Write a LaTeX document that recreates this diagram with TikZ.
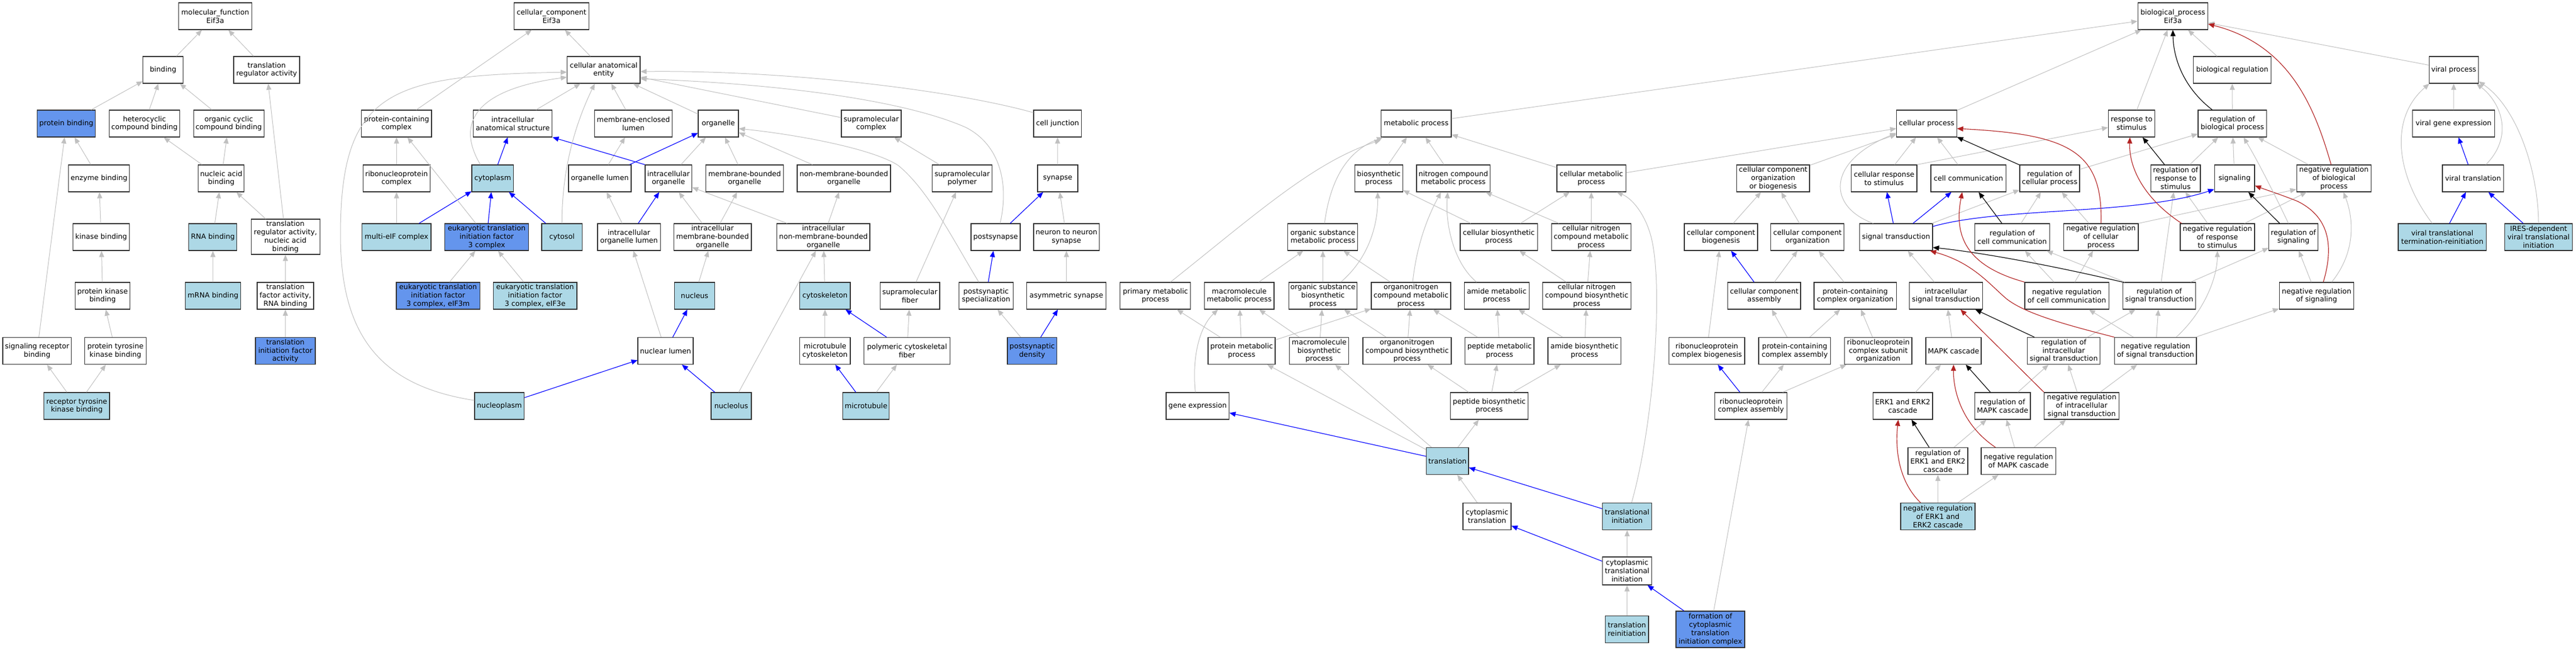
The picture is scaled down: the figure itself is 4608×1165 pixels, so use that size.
\documentclass[tikz,border=0pt]{standalone}
\usepackage{fontspec}
\setmainfont{DejaVu Sans}
\usetikzlibrary{arrows.meta}
\definecolor{cLight}{HTML}{ADD8E6}
\definecolor{cDark}{HTML}{6495ED}
\definecolor{cEdge}{HTML}{C0C0C0}
\definecolor{cRed}{HTML}{B22222}
\definecolor{cBorder}{HTML}{303030}
\tikzset{
  gbox/.style={draw=cBorder, line width=1.2pt, inner sep=1pt, align=center, anchor=center,
    font=\fontsize{12.7}{14.8}\selectfont},
  wb/.style={fill=white}, lb/.style={fill=cLight}, db/.style={fill=cDark},
  ge/.style={draw=cEdge, line width=1pt, -{Triangle[length=11pt,width=9pt]}},
  be/.style={draw=blue, line width=1.15pt, -{Triangle[length=11pt,width=9pt]}},
  ke/.style={draw=black, line width=1.15pt, -{Triangle[length=11pt,width=9pt]}},
  re/.style={draw=cRed, line width=1.15pt, -{Triangle[length=11pt,width=9pt]}}
}
\newcommand{\gonode}[7]{\node[gbox,#7,minimum width=#4pt,minimum height=#5pt] (#1) at (#2,#3) {#6};}
\newcommand{\edgG}[2]{\draw[ge] (#1) -- (#2);}
\newcommand{\edgB}[2]{\draw[be] (#1) -- (#2);}
\newcommand{\edgK}[2]{\draw[ke] (#1) -- (#2);}
\begin{document}
\begin{tikzpicture}[x=1pt,y=-1pt]
\useasboundingbox (0,0) rectangle (4608,1165);
% ---------------- molecular function
\gonode{mf}{385}{29}{131}{48}{molecular\_function\\Eif3a}{wb}
\gonode{bind}{291.75}{125}{72}{48}{binding}{wb}
\gonode{tra}{477}{125}{118}{48}{translation\\regulator activity}{wb}
\gonode{pbind}{118.65}{221}{104}{48}{protein binding}{db}
\gonode{hcb}{258.45}{221}{126}{48}{heterocyclic\\compound binding}{wb}
\gonode{occb}{409.15}{221}{126}{48}{organic cyclic\\compound binding}{wb}
\gonode{enzb}{177.1}{319}{109.4}{48}{enzyme binding}{wb}
\gonode{nab}{395.75}{319}{82}{48}{nucleic acid\\binding}{wb}
\gonode{kinb}{181}{424}{101.5}{48}{kinase binding}{wb}
\gonode{rnab}{380.8}{424}{86}{48}{RNA binding}{lb}
\gonode{tranab}{510.6}{423.5}{123}{63}{translation\\regulator activity,\\nucleic acid\\binding}{wb}
\gonode{pkb}{183.5}{529}{98.5}{48}{protein kinase\\binding}{wb}
\gonode{mrnab}{381}{529}{98.5}{48}{mRNA binding}{lb}
\gonode{tfrna}{510.5}{529}{101}{48}{translation\\factor activity,\\RNA binding}{wb}
\gonode{srb}{66.4}{627.5}{122.8}{48}{signaling receptor\\binding}{wb}
\gonode{ptkb}{206.45}{627.5}{109.5}{48}{protein tyrosine\\kinase binding}{wb}
\gonode{tifa}{510.5}{627.5}{107}{48}{translation\\initiation factor\\activity}{db}
\gonode{rtkb}{137.3}{726}{117.4}{48}{receptor tyrosine\\kinase binding}{lb}
% ---------------- cellular component
\gonode{cc}{986.6}{29}{133.8}{48}{cellular\_component\\Eif3a}{wb}
\gonode{cae}{1079.85}{125}{130.3}{48}{cellular anatomical\\entity}{wb}
\gonode{pcc}{709.35}{221}{125.3}{48}{protein-containing\\complex}{wb}
\gonode{ias}{917.2}{221}{141.2}{48}{intracellular\\anatomical structure}{wb}
\gonode{mel}{1133.05}{221}{139.3}{48}{membrane-enclosed\\lumen}{wb}
\gonode{org}{1285}{221}{72}{48}{organelle}{wb}
\gonode{smc}{1558.5}{221}{107}{48}{supramolecular\\complex}{wb}
\gonode{cj}{1891.7}{221}{85.4}{48}{cell junction}{wb}
\gonode{rnpc}{709.35}{319}{120.3}{48}{ribonucleoprotein\\complex}{wb}
\gonode{cyto}{881.35}{319}{74.7}{48}{cytoplasm}{lb}
\gonode{orgl}{1073}{319}{112}{48}{organelle lumen}{wb}
\gonode{io}{1195.75}{319}{83.5}{48}{intracellular\\organelle}{wb}
\gonode{mbo}{1332}{319}{139.3}{48}{membrane-bounded\\organelle}{wb}
\gonode{nmbo}{1509.5}{319}{167}{48}{non-membrane-bounded\\organelle}{wb}
\gonode{smp}{1721.15}{319}{106.7}{48}{supramolecular\\polymer}{wb}
\gonode{syn}{1892}{319}{72}{48}{synapse}{wb}
\gonode{meif}{709.35}{424}{123.3}{48}{multi-eIF complex}{lb}
\gonode{eif3}{870.65}{424}{149.7}{48}{eukaryotic translation\\initiation factor\\3 complex}{db}
\gonode{cytosol}{1005.3}{424}{72.6}{48}{cytosol}{lb}
\gonode{iol}{1125.15}{424}{112.3}{48}{intracellular\\organelle lumen}{wb}
\gonode{imbo}{1274.6}{424}{138.8}{48}{intracellular\\membrane-bounded\\organelle}{wb}
\gonode{inmbo}{1472.9}{424}{166.2}{48}{intracellular\\non-membrane-bounded\\organelle}{wb}
\gonode{psyn}{1781}{424}{88}{48}{postsynapse}{wb}
\gonode{n2n}{1907.7}{424}{117.4}{48}{neuron to neuron\\synapse}{wb}
\gonode{eif3m}{783.7}{529}{149.6}{48}{eukaryotic translation\\initiation factor\\3 complex, eIF3m}{db}
\gonode{eif3e}{957.2}{529}{149.6}{48}{eukaryotic translation\\initiation factor\\3 complex, eIF3e}{lb}
\gonode{nucleus}{1242.5}{529}{71.6}{48}{nucleus}{lb}
\gonode{cytosk}{1475.8}{529}{90.4}{48}{cytoskeleton}{lb}
\gonode{smf}{1627.65}{529}{106.7}{48}{supramolecular\\fiber}{wb}
\gonode{pss}{1763.8}{529}{97}{48}{postsynaptic\\specialization}{wb}
\gonode{asyn}{1907.55}{529}{142.1}{48}{asymmetric synapse}{wb}
\gonode{nucl}{1190.5}{627.5}{99}{48}{nuclear lumen}{wb}
\gonode{mtc}{1475.8}{627.5}{90.4}{48}{microtubule\\cytoskeleton}{wb}
\gonode{pcf}{1622.5}{627.5}{154.6}{48}{polymeric cytoskeletal\\fiber}{wb}
\gonode{psd}{1846.4}{627.5}{88.8}{48}{postsynaptic\\density}{db}
\gonode{nplasm}{893.3}{726}{88.6}{48}{nucleoplasm}{lb}
\gonode{nucleolus}{1307.95}{726}{72.1}{48}{nucleolus}{lb}
\gonode{mt}{1549.25}{726}{83.1}{48}{microtubule}{lb}
% ---------------- biological process
\gonode{bp}{3886.8}{29}{125.2}{48}{biological\_process\\Eif3a}{wb}
\gonode{breg}{3993}{125}{138.6}{48}{biological regulation}{wb}
\gonode{vp}{4389.25}{125}{88.1}{48}{viral process}{wb}
\gonode{mp}{2533.25}{221}{125.5}{48}{metabolic process}{wb}
\gonode{cp}{3446.4}{221}{107.4}{48}{cellular process}{wb}
\gonode{rts}{3813}{221}{83}{48}{response to\\stimulus}{wb}
\gonode{rbp}{3993.3}{221}{122.6}{48}{regulation of\\biological process}{wb}
\gonode{vge}{4389}{221}{147.4}{48}{viral gene expression}{wb}
\gonode{bsp}{2466.4}{319}{85.8}{48}{biosynthetic\\process}{wb}
\gonode{ncmp}{2599.7}{319}{131.4}{48}{nitrogen compound\\metabolic process}{wb}
\gonode{cmp}{2846.6}{319}{123.2}{48}{cellular metabolic\\process}{wb}
\gonode{ccoob}{3171.85}{319}{130.3}{48}{cellular component\\organization\\or biogenesis}{wb}
\gonode{crts}{3370.3}{319}{117.4}{48}{cellular response\\to stimulus}{wb}
\gonode{ccom}{3521.05}{319}{134.3}{48}{cell communication}{wb}
\gonode{rcp}{3666.5}{319}{107}{48}{regulation of\\cellular process}{wb}
\gonode{rrts}{3891.7}{319}{88.6}{48}{regulation of\\response to\\stimulus}{wb}
\gonode{sig}{3997.15}{319}{71.7}{48}{signaling}{wb}
\gonode{nrbp}{4174.9}{319}{133.4}{48}{negative regulation\\of biological\\process}{wb}
\gonode{vt}{4423.8}{319}{109.6}{48}{viral translation}{wb}
\gonode{osmp}{2366.3}{424}{125}{48}{organic substance\\metabolic process}{wb}
\gonode{cbsp}{2681.1}{424}{138.2}{48}{cellular biosynthetic\\process}{wb}
\gonode{cncmp}{2846.4}{424}{142}{48}{cellular nitrogen\\compound metabolic\\process}{wb}
\gonode{ccb}{3078.5}{424}{131}{48}{cellular component\\biogenesis}{wb}
\gonode{cco}{3233.25}{424}{130.9}{48}{cellular component\\organization}{wb}
\gonode{st}{3391.7}{424}{130.4}{48}{signal transduction}{wb}
\gonode{rcc}{3599.4}{424}{133.8}{48}{regulation of\\cell communication}{wb}
\gonode{nrcp}{3758.25}{424}{133.5}{48}{negative regulation\\of cellular\\process}{wb}
\gonode{nrrts}{3966.5}{424}{133}{48}{negative regulation\\of response\\to stimulus}{wb}
\gonode{rsig}{4102.5}{424}{87.6}{48}{regulation of\\signaling}{wb}
\gonode{vttr}{4368.85}{424}{157.7}{48}{viral translational\\termination-reinitiation}{lb}
\gonode{ires}{4541}{424}{120.6}{48}{IRES-dependent\\viral translational\\initiation}{lb}
\gonode{pmp}{2066.8}{529}{126}{48}{primary metabolic\\process}{wb}
\gonode{mmp}{2216.75}{529}{124.5}{48}{macromolecule\\metabolic process}{wb}
\gonode{osbp}{2366.5}{529}{122.6}{48}{organic substance\\biosynthetic\\process}{wb}
\gonode{oncmp}{2524}{529}{142}{48}{organonitrogen\\compound metabolic\\process}{wb}
\gonode{amp}{2677.25}{529}{115.9}{48}{amide metabolic\\process}{wb}
\gonode{cncbp}{2838.4}{529}{158}{48}{cellular nitrogen\\compound biosynthetic\\process}{wb}
\gonode{cca}{3155.85}{529}{130.3}{48}{cellular component\\assembly}{wb}
\gonode{pcco}{3318.6}{529}{147.2}{48}{protein-containing\\complex organization}{wb}
\gonode{ist}{3481}{529}{130.8}{48}{intracellular\\signal transduction}{wb}
\gonode{nrcc}{3697.1}{529}{150.2}{48}{negative regulation\\of cell communication}{wb}
\gonode{rst}{3862.5}{529}{130.4}{48}{regulation of\\signal transduction}{wb}
\gonode{nrsig}{4143.95}{529}{133.5}{48}{negative regulation\\of signaling}{wb}
\gonode{prmp}{2221}{627.5}{120}{48}{protein metabolic\\process}{wb}
\gonode{mbp}{2359.75}{627.5}{106.1}{48}{macromolecule\\biosynthetic\\process}{wb}
\gonode{oncbp}{2517}{627.5}{158}{48}{organonitrogen\\compound biosynthetic\\process}{wb}
\gonode{pepmp}{2682.4}{627.5}{123.2}{48}{peptide metabolic\\process}{wb}
\gonode{abp}{2834.25}{627.5}{130.5}{48}{amide biosynthetic\\process}{wb}
\gonode{rnpcb}{3053.15}{627.5}{135.7}{48}{ribonucleoprotein\\complex biogenesis}{wb}
\gonode{pcca}{3210.4}{627.5}{128.8}{48}{protein-containing\\complex assembly}{wb}
\gonode{rnpso}{3359.85}{627.5}{120.3}{48}{ribonucleoprotein\\complex subunit\\organization}{wb}
\gonode{mapk}{3494.5}{627.5}{99}{48}{MAPK cascade}{wb}
\gonode{rist}{3691.65}{627.5}{130.3}{48}{regulation of\\intracellular\\signal transduction}{wb}
\gonode{nrst}{3855.8}{627.5}{146.4}{48}{negative regulation\\of signal transduction}{wb}
\gonode{gexp}{2142.3}{726}{112.6}{48}{gene expression}{wb}
\gonode{pbp}{2663.9}{726}{138.6}{48}{peptide biosynthetic\\process}{wb}
\gonode{rnpca}{3132.05}{726}{129.3}{48}{ribonucleoprotein\\complex assembly}{wb}
\gonode{erk}{3403.65}{726}{106.5}{48}{ERK1 and ERK2\\cascade}{wb}
\gonode{rmapk}{3582.25}{726}{99.5}{48}{regulation of\\MAPK cascade}{wb}
\gonode{nrist}{3723.7}{726}{133.8}{48}{negative regulation\\of intracellular\\signal transduction}{wb}
\gonode{trl}{2589.25}{824.5}{75.5}{48}{translation}{lb}
\gonode{rerk}{3466.5}{824.5}{107}{48}{regulation of\\ERK1 and ERK2\\cascade}{wb}
\gonode{nrmapk}{3610.6}{824.5}{133.2}{48}{negative regulation\\of MAPK cascade}{wb}
\gonode{ctrl}{2660}{923.5}{86}{48}{cytoplasmic\\translation}{wb}
\gonode{tinit}{2910.6}{923.5}{88.2}{48}{translational\\initiation}{lb}
\gonode{nrerk}{3466.5}{923.5}{133}{48}{negative regulation\\of ERK1 and\\ERK2 cascade}{lb}
\gonode{ctinit}{2910.6}{1021}{88.2}{50}{cytoplasmic\\translational\\initiation}{wb}
\gonode{treinit}{2910.2}{1125.5}{77.6}{48}{translation\\reinitiation}{lb}
\gonode{fcti}{3059.5}{1125.5}{123}{65}{formation of\\cytoplasmic\\translation\\initiation complex}{db}
% ================= edges: molecular function
\edgG{bind}{mf}
\edgG{tra}{mf}
\edgG{pbind}{bind}
\edgG{hcb}{bind}
\edgG{occb}{bind}
\edgG{enzb}{pbind}
\edgG{srb}{pbind}
\edgG{nab}{hcb}
\edgG{nab}{occb}
\edgG{kinb}{enzb}
\edgG{rnab}{nab}
\edgG{tranab}{nab}
\edgG{tranab}{tra}
\edgG{pkb}{kinb}
\edgG{mrnab}{rnab}
\edgG{tfrna}{tranab}
\edgG{ptkb}{pkb}
\edgG{tifa}{tfrna}
\edgG{rtkb}{srb}
\edgG{rtkb}{ptkb}
% ================= edges: cellular component
\edgG{cae}{cc}
\edgG{pcc}{cc}
\edgG{ias}{cae}
\edgG{mel}{cae}
\edgG{org}{cae}
\edgG{smc}{cae}
\edgG{rnpc}{pcc}
\edgG{meif}{rnpc}
\edgB{meif}{cyto}
\edgB{eif3}{cyto}
\edgG{eif3}{pcc}
\edgB{cytosol}{cyto}
\edgB{cyto}{ias}
\edgG{eif3m}{eif3}
\edgG{eif3e}{eif3}
\edgG{orgl}{mel}
\edgB{orgl}{org}
\draw[be] (io.north west) -- (ias.south east);
\edgG{io}{org}
\edgG{mbo}{org}
\edgG{nmbo}{org}
\edgG{iol}{orgl}
\edgB{iol}{io}
\edgG{imbo}{io}
\edgG{imbo}{mbo}
\edgG{inmbo}{io}
\edgG{inmbo}{nmbo}
\edgG{nucleus}{imbo}
\edgG{cytosk}{inmbo}
\edgG{nucl}{iol}
\edgB{nucl}{nucleus}
\edgG{nucleolus}{inmbo}
\edgB{nucleolus}{nucl}
\edgB{nplasm}{nucl}
\edgG{mtc}{cytosk}
\edgB{pcf}{cytosk}
\edgG{pcf}{smf}
\edgB{mt}{mtc}
\edgG{mt}{pcf}
\edgG{smf}{smp}
\edgG{smp}{smc}
\edgG{syn}{cj}
\edgB{psyn}{syn}
\edgG{n2n}{syn}
\edgB{pss}{psyn}
\edgG{asyn}{n2n}
\edgG{psd}{pss}
\edgB{psd}{asyn}
\draw[ge] ([yshift=10pt]nplasm.west) .. controls (680,690) and (609,600) .. (609,420) .. controls (609,160) and (700,135) .. ([yshift=-4pt]cae.west);
\draw[ge] ([xshift=-22pt]cyto.north) .. controls (815,220) and (850,160) .. ([yshift=-13pt]cae.west);
\draw[ge] (cytosol.north) .. controls (1005,300) and (1030,220) .. ([xshift=-16pt]cae.south);
\draw[ge] ([yshift=-5pt]cj.north west) .. controls (1700,160) and (1400,125) .. ([yshift=-3pt]cae.east);
\draw[ge] ([xshift=8pt]psyn.north) .. controls (1805,330) and (1790,260) .. (1728,228) .. controls (1620,180) and (1400,150) .. ([yshift=-16pt]cae.east);
\draw[ge] ([xshift=-13pt]pss.north) .. controls (1700,420) and (1660,340) .. (1607,296) .. controls (1560,265) and (1420,240) .. ([yshift=-9pt]org.east);
% ================= edges: biological process
\edgG{mp}{bp}
\edgG{cp}{bp}
\edgG{rts}{bp}
\edgG{breg}{bp}
\edgG{vp}{bp}
\edgG{rbp}{breg}
\edgG{vge}{vp}
\edgB{vt}{vge}
\edgB{vttr}{vt}
\edgB{ires}{vt}
\edgG{bsp}{mp}
\edgG{ncmp}{mp}
\edgG{cmp}{mp}
\edgG{cmp}{cp}
\edgG{cbsp}{bsp}
\edgG{cbsp}{cmp}
\edgG{cncmp}{ncmp}
\edgG{cncmp}{cmp}
\edgG{osbp}{osmp}
\edgG{oncmp}{osmp}
\edgG{mmp}{osmp}
\edgG{cncbp}{cbsp}
\edgG{cncbp}{cncmp}
\edgG{prmp}{pmp}
\edgG{prmp}{mmp}
\edgG{prmp}{oncmp}
\edgG{mbp}{mmp}
\edgG{mbp}{osbp}
\edgG{oncbp}{osbp}
\edgG{oncbp}{oncmp}
\edgG{pepmp}{oncmp}
\edgG{pepmp}{amp}
\edgG{abp}{amp}
\edgG{abp}{cncbp}
\edgG{pbp}{oncbp}
\edgG{pbp}{pepmp}
\edgG{pbp}{abp}
\edgG{trl}{pbp}
\edgG{trl}{prmp}
\edgG{trl}{mbp}
\edgB{trl}{gexp}
\edgG{ctrl}{trl}
\edgB{tinit}{trl}
\edgG{ctinit}{tinit}
\edgB{ctinit}{ctrl}
\edgG{treinit}{ctinit}
\edgB{fcti}{ctinit}
\edgG{fcti}{rnpca}
\edgB{rnpca}{rnpcb}
\edgG{rnpca}{pcca}
\edgG{rnpca}{rnpso}
\edgG{rnpcb}{ccb}
\edgG{pcca}{cca}
\edgG{pcca}{pcco}
\edgG{rnpso}{pcco}
\edgB{cca}{ccb}
\edgG{cca}{cco}
\edgG{pcco}{cco}
\edgG{ccb}{ccoob}
\edgG{cco}{ccoob}
\edgG{ccoob}{cp}
\edgG{crts}{cp}
\draw[ge] (crts.north east) -- ([yshift=-7pt]rts.west);
\edgG{ccom}{cp}
\edgK{rcp}{cp}
\edgG{rcp}{rbp}
\edgB{st}{crts}
\edgB{st}{ccom}
\edgG{st}{rcp}
\edgK{rcc}{ccom}
\edgG{rcc}{rcp}
\edgG{nrcp}{rcp}
\draw[ge] (nrcp.north east) -- ([yshift=5pt]nrbp.south west);
\edgG{nrcc}{rcc}
\edgG{nrcc}{nrcp}
\edgG{rst}{rcc}
\edgG{rst}{rrts}
\edgG{rst}{rsig}
\edgG{ist}{st}
\edgG{mapk}{ist}
\edgK{rist}{ist}
\edgG{rist}{rst}
\edgG{nrst}{nrcc}
\edgG{nrst}{rst}
\edgG{nrst}{nrsig}
\edgK{rmapk}{mapk}
\edgG{rmapk}{rist}
\edgG{nrist}{rist}
\edgG{nrist}{nrst}
\edgG{erk}{mapk}
\edgK{rerk}{erk}
\edgG{rerk}{rmapk}
\edgG{nrmapk}{rmapk}
\edgG{nrmapk}{nrist}
\edgG{nrerk}{rerk}
\edgG{nrerk}{nrmapk}
\edgK{rrts}{rts}
\edgG{rrts}{rbp}
\edgG{nrrts}{rrts}
\edgG{nrrts}{nrbp}
\edgG{sig}{rbp}
\edgK{rsig}{sig}
\edgG{nrsig}{rsig}
\edgG{nrbp}{rbp}
\draw[re] (nrist.north west) -- ([xshift=26pt]ist.south);
% curved connectors
\draw[ge] ([xshift=-41pt]st.north) .. controls (3270,370) and (3265,290) .. ([yshift=-17pt]cp.west);
\draw[be] ([yshift=19pt]st.east) .. controls (3580,370) and (3820,385) .. ([yshift=5pt]sig.south west);
\draw[ke] (rst.north west) .. controls (3650,470) and (3530,450) .. ([yshift=6pt]st.south east);
\draw[re] (nrst.north west) .. controls (3700,582) and (3625,562) .. (3590,535) .. controls (3560,510) and (3530,470) .. ([xshift=-5pt]st.south east);
\draw[re] (nrcc.north west) .. controls (3515,475) and (3495,420) .. ([xshift=-11pt]ccom.south);
\draw[re] (nrcp.north) .. controls (3762,270) and (3700,240) .. ([yshift=-9pt]cp.east);
\draw[re] ([xshift=26pt]nrmapk.north west) .. controls (3510,760) and (3494,700) .. (mapk.south);
\draw[re] ([xshift=-31pt]nrerk.north) .. controls (3395,860) and (3390,800) .. ([xshift=-8pt]erk.south);
\draw[re] ([xshift=3pt]nrrts.north west) .. controls (3835,355) and (3808,300) .. ([xshift=-3pt]rts.south);
\draw[re] ([xshift=12pt]nrsig.north) .. controls (4178,430) and (4160,385) .. (4110,360) .. controls (4080,348) and (4055,340) .. ([yshift=-13pt]sig.east);
\draw[re] ([xshift=-5pt]nrbp.north) .. controls (4140,190) and (4095,80) .. ([yshift=-14pt]bp.east);
\draw[ke] ([xshift=-36pt]rbp.north) .. controls (3910,160) and (3888,110) .. (bp.south);
\draw[ge] ([xshift=8pt]tinit.north) .. controls (2958,760) and (2975,520) .. (2955,430) .. controls (2945,385) and (2920,355) .. ([xshift=-17pt]cmp.south east);
\draw[ge] ([xshift=-4pt]gexp.north) .. controls (2132,640) and (2145,585) .. ([xshift=-38pt]mmp.south);
\draw[ge] ([xshift=3pt]osmp.north) .. controls (2380,320) and (2410,270) .. ([xshift=4pt]mp.south west);
\draw[ge] ([xshift=27pt]pmp.north) .. controls (2250,380) and (2350,290) .. ([yshift=-5pt]mp.south west);
\draw[ge] ([xshift=32pt]osbp.north) .. controls (2450,460) and (2465,400) .. ([xshift=-2pt]bsp.south);
\draw[ge] ([xshift=3pt]oncmp.north) .. controls (2535,430) and (2558,380) .. ([xshift=-22pt]ncmp.south);
\draw[ge] ([xshift=-36pt]amp.north) .. controls (2600,470) and (2585,400) .. ([xshift=-10pt]ncmp.south);
\draw[ge] ([xshift=-18pt]vttr.north) .. controls (4290,320) and (4270,215) .. ([xshift=1pt]vp.south west);
\draw[ge] (ires.north) .. controls (4540,300) and (4500,190) .. ([yshift=4pt]vp.south east);
\draw[ge] ([xshift=23pt]vt.north) .. controls (4500,240) and (4470,180) .. ([xshift=-4pt]vp.south east);
\draw[ge] ([xshift=-9pt]rsig.north) .. controls (4070,350) and (4040,290) .. ([xshift=20pt]rbp.south);
\draw[ge] ([xshift=27pt]nrsig.north) .. controls (4215,450) and (4210,390) .. ([xshift=17pt]nrbp.south);
\draw[ge] ([xshift=37pt]nrst.north) .. controls (3940,560) and (3966,500) .. (nrrts.south);
\end{tikzpicture}
\end{document}
